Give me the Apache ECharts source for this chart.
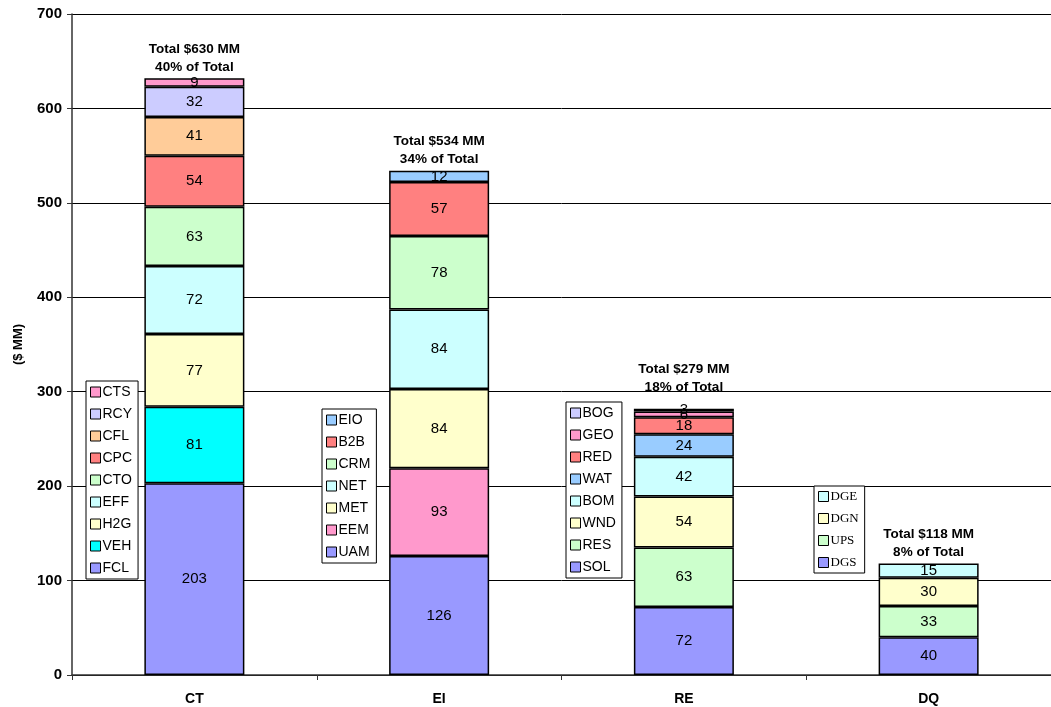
<!DOCTYPE html>
<html>
<head>
<meta charset="utf-8">
<script src="https://cdn.jsdelivr.net/npm/echarts@6/dist/echarts.min.js"></script>
<style>
  html, body { margin: 0; padding: 0; background: #fff; }
  #chart { width: 1051px; height: 707px; }
</style>
</head>
<body>
<div id="chart"></div>
<script>
// Program categories and their funding segments ($ MM), bottom to top
const categories = ['CT', 'EI', 'RE', 'DQ'];

const ctNames  = ['FCL', 'VEH', 'H2G', 'EFF', 'CTO', 'CPC', 'CFL', 'RCY', 'CTS'];
const ctValues = [203, 81, 77, 72, 63, 54, 41, 32, 9];

const eiNames  = ['UAM', 'EEM', 'MET', 'NET', 'CRM', 'B2B', 'EIO'];
const eiValues = [126, 93, 84, 84, 78, 57, 12];

const reNames  = ['SOL', 'RES', 'WND', 'BOM', 'WAT', 'RED', 'GEO', 'BOG'];
const reValues = [72, 63, 54, 42, 24, 18, 6, 3];

const dqNames  = ['DGS', 'UPS', 'DGN', 'DGE'];
const dqValues = [40, 33, 30, 15];

const totalLabels = [
  'Total $630 MM\n40% of Total',
  'Total $534 MM\n34% of Total',
  'Total $279 MM\n18% of Total',
  'Total $118 MM\n8% of Total'
];

const segmentColors = {
  FCL: '#9999FF', VEH: '#00FFFF', H2G: '#FFFFCC', EFF: '#CCFFFF', CTO: '#CCFFCC',
  CPC: '#FF8080', CFL: '#FFCC99', RCY: '#CCCCFF', CTS: '#FF99CC',
  UAM: '#9999FF', EEM: '#FF99CC', MET: '#FFFFCC', NET: '#CCFFFF', CRM: '#CCFFCC',
  B2B: '#FF8080', EIO: '#99CCFF',
  SOL: '#9999FF', RES: '#CCFFCC', WND: '#FFFFCC', BOM: '#CCFFFF', WAT: '#99CCFF',
  RED: '#FF8080', GEO: '#FF99CC', BOG: '#CCCCFF',
  DGS: '#9999FF', UPS: '#CCFFCC', DGN: '#FFFFCC', DGE: '#CCFFFF'
};

const groups = [
  { names: ctNames, values: ctValues },
  { names: eiNames, values: eiValues },
  { names: reNames, values: reValues },
  { names: dqNames, values: dqValues }
];

const sans = '"Liberation Sans", Arial, sans-serif';
const serif = '"Liberation Serif", "Times New Roman", serif';

const series = [];
groups.forEach((g, gi) => {
  g.names.forEach((name, k) => {
    const data = categories.map((c, ci) => (ci === gi ? g.values[k] : '-'));
    series.push({
      name: name,
      type: 'bar',
      stack: 'all',
      barWidth: 100,
      data: data,
      itemStyle: { color: segmentColors[name], borderColor: '#000', borderWidth: 1.5 },
      label: {
        show: true,
        position: 'inside',
        color: '#000',
        fontFamily: sans,
        fontSize: 15
      },
      emphasis: { disabled: true },
      animation: false
    });
  });
});

// Total annotations sit on top of each stack; the RE note is lifted clear of its thin top slices
const stackTops = groups.map(g => g.values.reduce((a, b) => a + b, 0));
const labelGaps = [2, 2, 12, 2];
series.push({
  name: 'totals',
  type: 'scatter',
  symbolSize: 0,
  itemStyle: { opacity: 1 },
  data: stackTops.map((v, i) => ({ value: v, label: { distance: labelGaps[i] } })),
  label: {
    show: true,
    position: 'top',
    formatter: p => totalLabels[p.dataIndex],
    color: '#000',
    fontFamily: sans,
    fontWeight: 'bold',
    fontSize: 13.5,
    lineHeight: 18,
    align: 'center'
  },
  emphasis: { disabled: true },
  silent: true,
  animation: false
});

function legendBox(names, left, top, font, size, gap) {
  return {
    orient: 'vertical',
    left: left,
    top: top,
    data: names.slice().reverse(),
    selectedMode: false,
    icon: 'rect',
    itemWidth: 10,
    itemHeight: 10,
    itemGap: gap,
    padding: [4, 6, 4, 4],
    borderColor: '#000',
    borderWidth: 1,
    backgroundColor: '#fff',
    itemStyle: { borderColor: '#000', borderWidth: 1 },
    textStyle: { fontFamily: font, fontSize: size, color: '#000', padding: [0, 0, 0, -3] }
  };
}

const option = {
  backgroundColor: '#fff',
  animation: false,
  grid: { left: 72, top: 14, width: 992, height: 661, containLabel: false },
  xAxis: {
    type: 'category',
    data: categories,
    axisLine: { lineStyle: { color: '#333', width: 1.5 } },
    axisTick: { show: true, length: 5, lineStyle: { color: '#333' } },
    axisLabel: { color: '#000', fontFamily: sans, fontWeight: 'bold', fontSize: 14, margin: 17 }
  },
  yAxis: {
    type: 'value',
    min: 0,
    max: 700,
    interval: 100,
    name: '($ MM)',
    nameLocation: 'middle',
    nameGap: 47,
    nameRotate: 90,
    nameTextStyle: { color: '#000', fontFamily: sans, fontWeight: 'bold', fontSize: 13 },
    axisLine: { show: true, lineStyle: { color: '#333', width: 1.5 } },
    axisTick: { show: true, length: 5, inside: false, lineStyle: { color: '#333' } },
    axisLabel: { color: '#000', fontFamily: sans, fontWeight: 'bold', fontSize: 15, margin: 10 },
    splitLine: { show: true, lineStyle: { color: '#000', width: 1 } }
  },
  legend: [
    legendBox(ctNames, 86, 381, sans, 14, 8),
    legendBox(eiNames, 322, 409, sans, 14, 8),
    legendBox(reNames, 566, 402, sans, 14, 8),
    legendBox(dqNames, 814, 486, serif, 13, 9)
  ],
  series: series
};

const chart = echarts.init(document.getElementById('chart'), null, { renderer: 'canvas' });
chart.setOption(option);
</script>
</body>
</html>
